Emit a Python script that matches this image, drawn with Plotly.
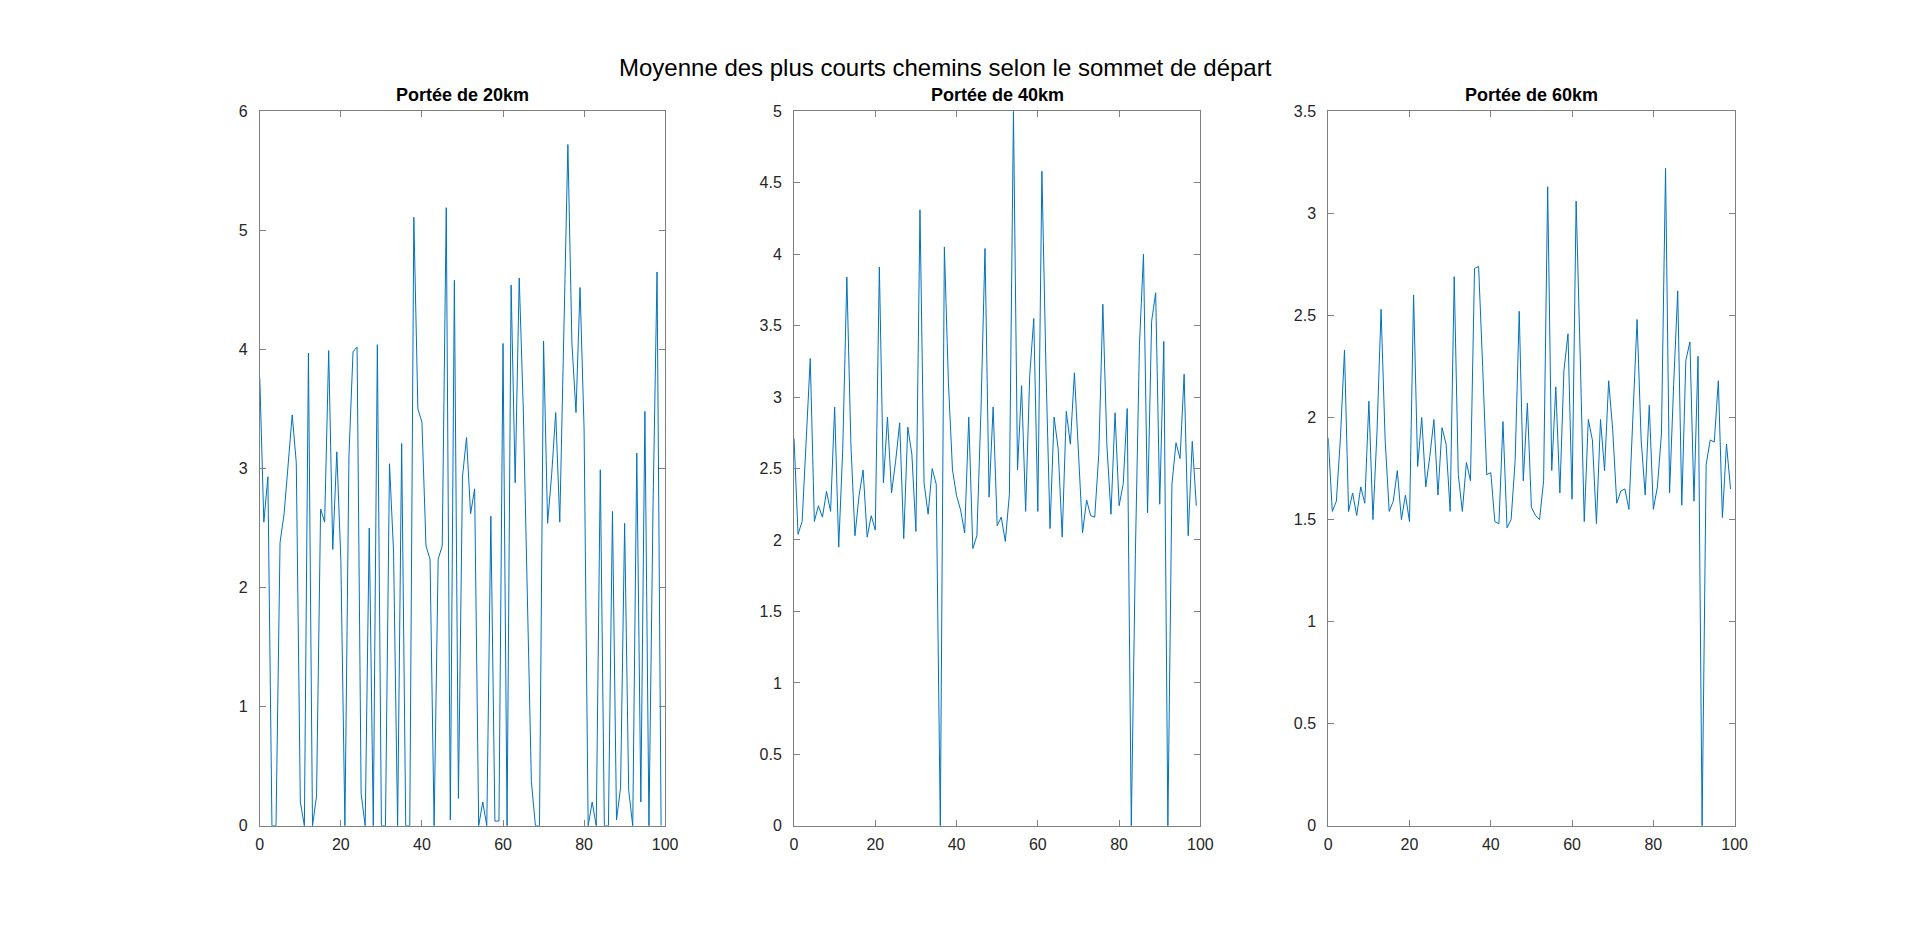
import plotly.graph_objects as go

x_index = list(range(100))

portee_20km = [3.76, 2.55, 2.93, 0, 0, 2.38, 2.62, 3.05, 3.45, 3.05,
               0.2, 0, 3.97, 0, 0.25, 2.66, 2.55, 3.99, 2.32, 3.14,
               2.23, 0, 3.11, 3.98, 4.02, 0.27, 0, 2.5, 0, 4.04,
               0, 0, 3.04, 2.3, 0, 3.21, 0, 0, 5.11, 3.5,
               3.39, 2.35, 2.24, 0, 2.24, 2.35, 5.19, 0.05, 4.58, 0.23,
               2.93, 3.26, 2.62, 2.83, 0, 0.2, 0, 2.6, 0.04, 0.04,
               4.05, 0, 4.54, 2.88, 4.6, 3.5, 1.9, 0.37, 0, 0,
               4.07, 2.54, 2.95, 3.47, 2.55, 4.1, 5.72, 4.05, 3.47, 4.52,
               3.33, 0, 0.2, 0, 2.99, 0, 0, 2.64, 0.05, 0.32,
               2.54, 0.3, 0, 3.13, 0.2, 3.48, 0, 2.67, 4.65, 0]

portee_40km = [2.71, 2.04, 2.13, 2.7, 3.27, 2.13, 2.24, 2.16, 2.34, 2.2,
               2.93, 1.95, 2.64, 3.84, 2.67, 2.03, 2.31, 2.49, 2.02, 2.17,
               2.07, 3.91, 2.4, 2.86, 2.33, 2.55, 2.82, 2.01, 2.79, 2.6,
               2.06, 4.31, 2.4, 2.18, 2.5, 2.39, 0, 4.05, 3.1, 2.49,
               2.31, 2.21, 2.05, 2.86, 1.94, 2.03, 2.9, 4.04, 2.3, 2.93,
               2.1, 2.16, 1.99, 2.32, 5.0, 2.49, 3.08, 2.2, 3.15, 3.55,
               2.2, 4.58, 3.2, 2.08, 2.86, 2.64, 2.02, 2.9, 2.67, 3.17,
               2.6, 2.05, 2.28, 2.17, 2.16, 2.6, 3.65, 2.66, 2.18, 2.89,
               2.24, 2.39, 2.92, 0, 1.9, 3.36, 4.0, 2.19, 3.53, 3.73,
               2.25, 3.39, 0, 2.39, 2.68, 2.57, 3.16, 2.03, 2.69, 2.24]

portee_60km = [1.9, 1.54, 1.59, 1.9, 2.33, 1.54, 1.63, 1.52, 1.66, 1.58,
               2.08, 1.5, 1.93, 2.53, 1.89, 1.54, 1.59, 1.74, 1.5, 1.62,
               1.49, 2.6, 1.76, 2.0, 1.66, 1.81, 1.99, 1.62, 1.95, 1.87,
               1.54, 2.69, 1.72, 1.54, 1.78, 1.69, 2.73, 2.74, 2.25, 1.72,
               1.73, 1.49, 1.48, 1.98, 1.46, 1.5, 1.79, 2.52, 1.69, 2.07,
               1.56, 1.52, 1.5, 1.69, 3.13, 1.74, 2.15, 1.63, 2.23, 2.41,
               1.6, 3.06, 2.3, 1.49, 1.99, 1.89, 1.48, 1.99, 1.74, 2.18,
               1.94, 1.58, 1.64, 1.65, 1.55, 2.0, 2.48, 1.89, 1.62, 2.06,
               1.55, 1.66, 1.92, 3.22, 1.63, 2.16, 2.62, 1.57, 2.28, 2.37,
               1.59, 2.3, 0, 1.77, 1.89, 1.88, 2.18, 1.51, 1.87, 1.65]

subplot_titles = ["Portée de 20km", "Portée de 40km", "Portée de 60km"]
main_title = "Moyenne des plus courts chemins selon le sommet de départ"
y_max = [6, 5, 3.5]
y_step = [1, 0.5, 0.5]
x_ticks = [0, 20, 40, 60, 80, 100]

series = [portee_20km, portee_40km, portee_60km]

FONT = "Liberation Sans, Arial, Helvetica, sans-serif"
LINE_COLOR = "#0072BD"
AX_COLOR = "#808080"
TXT_COLOR = "#262626"

x_domains = [[250 / 1920, 659 / 1920], [789 / 1920, 1199 / 1920], [1328 / 1920, 1738 / 1920]]
y_domain = [1 - 825 / 926, 1 - 97 / 926]

fig = go.Figure()
layout = dict(
    width=1920, height=926, autosize=False,
    margin=dict(l=0, r=0, t=0, b=0),
    paper_bgcolor="white", plot_bgcolor="white",
    showlegend=False,
    font=dict(family=FONT, size=16, color=TXT_COLOR),
)

annotations = []
for i, (vals, title) in enumerate(zip(series, subplot_titles)):
    sfx = "" if i == 0 else str(i + 1)
    fig.add_trace(go.Scatter(
        x=x_index, y=vals, mode="lines",
        line=dict(color=LINE_COLOR, width=1),
        xaxis="x" + sfx, yaxis="y" + sfx,
        hoverinfo="x+y",
    ))
    common = dict(
        showline=True, linecolor=AX_COLOR, linewidth=1, mirror="ticks",
        ticks="inside", ticklen=6, tickcolor=AX_COLOR, tickwidth=1,
        showgrid=False, zeroline=False,
        tickfont=dict(family=FONT, size=16, color=TXT_COLOR),
    )
    layout["xaxis" + sfx] = dict(
        domain=x_domains[i], range=[0, 100], tickvals=x_ticks,
        anchor="y" + sfx, ticklabelstandoff=4, **common)
    layout["yaxis" + sfx] = dict(
        domain=y_domain, range=[0, y_max[i]], dtick=y_step[i], tick0=0,
        anchor="x" + sfx, ticklabelstandoff=8, **common)
    annotations.append(dict(
        text="<b>" + title + "</b>", xref="paper", yref="paper",
        x=(x_domains[i][0] + x_domains[i][1]) / 2, y=y_domain[1],
        xanchor="center", yanchor="bottom", yshift=4, showarrow=False,
        font=dict(family=FONT, size=18, color="#000000"),
    ))

annotations.append(dict(
    text=main_title, xref="paper", yref="paper",
    x=942 / 1920, y=1 - 52 / 926, xanchor="center", yanchor="middle",
    showarrow=False, font=dict(family=FONT, size=24, color="#000000"),
))
layout["annotations"] = annotations
fig.update_layout(**layout)

fig.write_html("out.html")
